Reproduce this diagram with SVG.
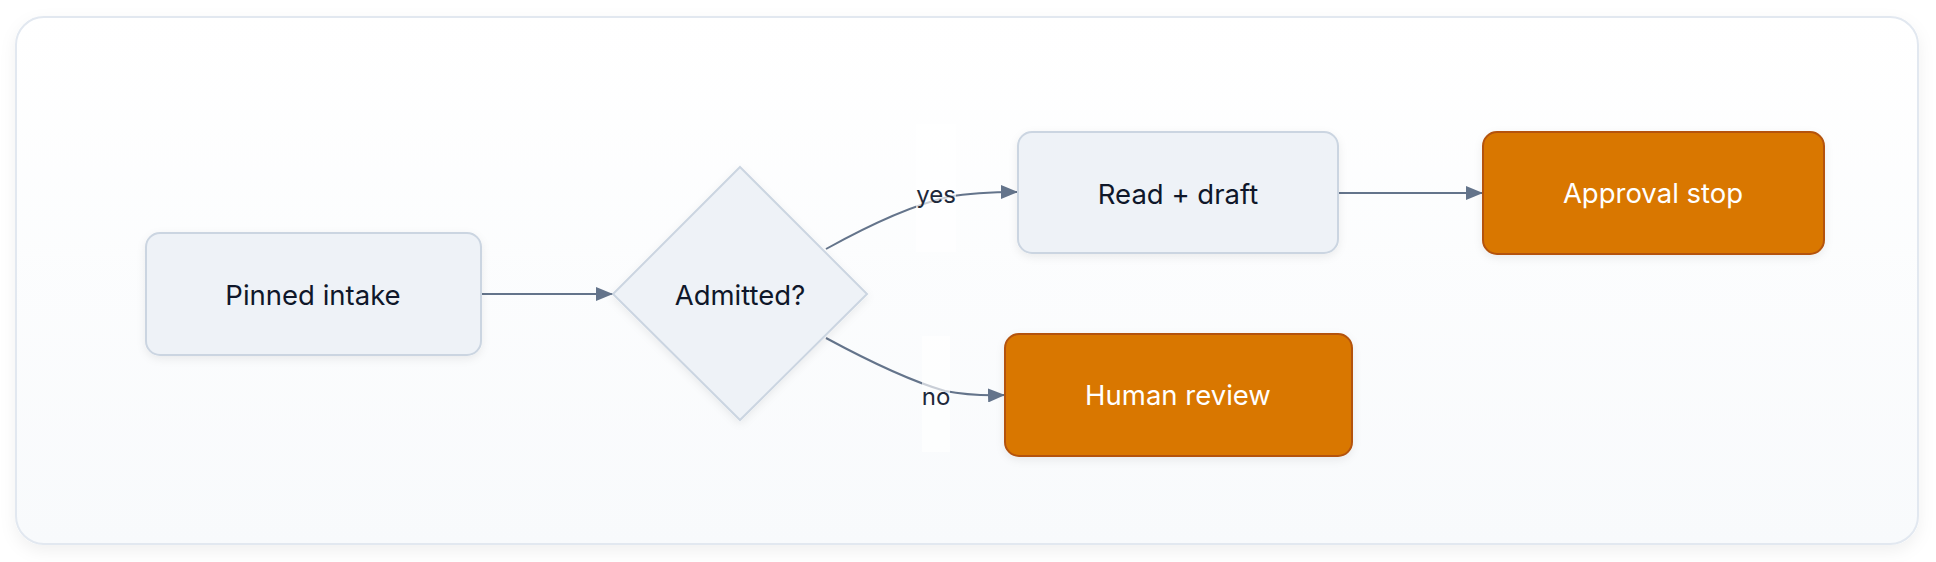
<svg xmlns="http://www.w3.org/2000/svg" width="1936" height="562" viewBox="0 0 1936 562">
  <defs>
    <linearGradient id="cardGrad" x1="0" y1="0" x2="0" y2="1">
      <stop offset="0" stop-color="#FFFFFF"/>
      <stop offset="1" stop-color="#F8FAFC"/>
    </linearGradient>
    <filter id="cardShadow" x="-5%" y="-10%" width="110%" height="125%">
      <feDropShadow dx="0" dy="6" stdDeviation="8" flood-color="#0F172A" flood-opacity="0.06"/>
    </filter>
    <filter id="nodeShadow" x="-10%" y="-15%" width="120%" height="140%">
      <feDropShadow dx="0" dy="3" stdDeviation="4" flood-color="#0F172A" flood-opacity="0.07"/>
    </filter>
    <marker id="arrow" viewBox="0 0 17 14" refX="17" refY="7" markerWidth="17" markerHeight="14" markerUnits="userSpaceOnUse" orient="auto">
      <path d="M0,0 L17,7 L0,14 Z" fill="#64748B"/>
    </marker>
    <style>
      .node { fill: #EEF2F7; stroke: #CBD5E1; stroke-width: 2; }
      .alert { fill: #D97706; stroke: #B45309; stroke-width: 2; }
      .label { font-family: Inter, "Liberation Sans", sans-serif; font-size: 27.5px; fill: #0F172A; text-anchor: middle; dominant-baseline: central; }
      .label-light { fill: #FFFFFF; }
      .edge { fill: none; stroke: #64748B; stroke-width: 2; }
      .edge-label { font-family: Inter, "Liberation Sans", sans-serif; font-size: 24px; fill: #1E293B; text-anchor: middle; dominant-baseline: central; }
      .label-bg { fill: #FFFFFF; opacity: 0.65; }
    </style>
  </defs>

  <rect x="16" y="17" width="1902" height="527" rx="28" fill="url(#cardGrad)" stroke="#E2E8F0" stroke-width="2" filter="url(#cardShadow)"/>

  <g id="connectors">
    <path class="edge" d="M481,294 L613,294" marker-end="url(#arrow)"/>
    <path class="edge" d="M826,249 Q900,208 948,197 Q975,192 1018,192" marker-end="url(#arrow)"/>
    <path class="edge" d="M826,338 Q900,378 945,391 Q970,396 1005,395" marker-end="url(#arrow)"/>
    <path class="edge" d="M1338,193 L1483,193" marker-end="url(#arrow)"/>
    <rect class="label-bg" x="916" y="124" width="40" height="128"/>
    <text class="edge-label" x="936" y="194">yes</text>
    <rect class="label-bg" x="922" y="336" width="28" height="116"/>
    <text class="edge-label" x="936" y="396">no</text>
  </g>

  <g id="pinned-intake">
    <rect class="node" x="146" y="233" width="335" height="122" rx="14" filter="url(#nodeShadow)"/>
    <text class="label" x="313" y="295">Pinned intake</text>
  </g>

  <g id="admitted">
    <polygon class="node" points="740,167 867,294 740,420 613,294" filter="url(#nodeShadow)"/>
    <text class="label" x="740" y="295">Admitted?</text>
  </g>

  <g id="read-draft">
    <rect class="node" x="1018" y="132" width="320" height="121" rx="14" filter="url(#nodeShadow)"/>
    <text class="label" x="1178" y="194">Read + draft</text>
  </g>

  <g id="human-review">
    <rect class="alert" x="1005" y="334" width="347" height="122" rx="14" filter="url(#nodeShadow)"/>
    <text class="label label-light" x="1178" y="395">Human review</text>
  </g>

  <g id="approval-stop">
    <rect class="alert" x="1483" y="132" width="341" height="122" rx="14" filter="url(#nodeShadow)"/>
    <text class="label label-light" x="1653" y="193">Approval stop</text>
  </g>
</svg>
